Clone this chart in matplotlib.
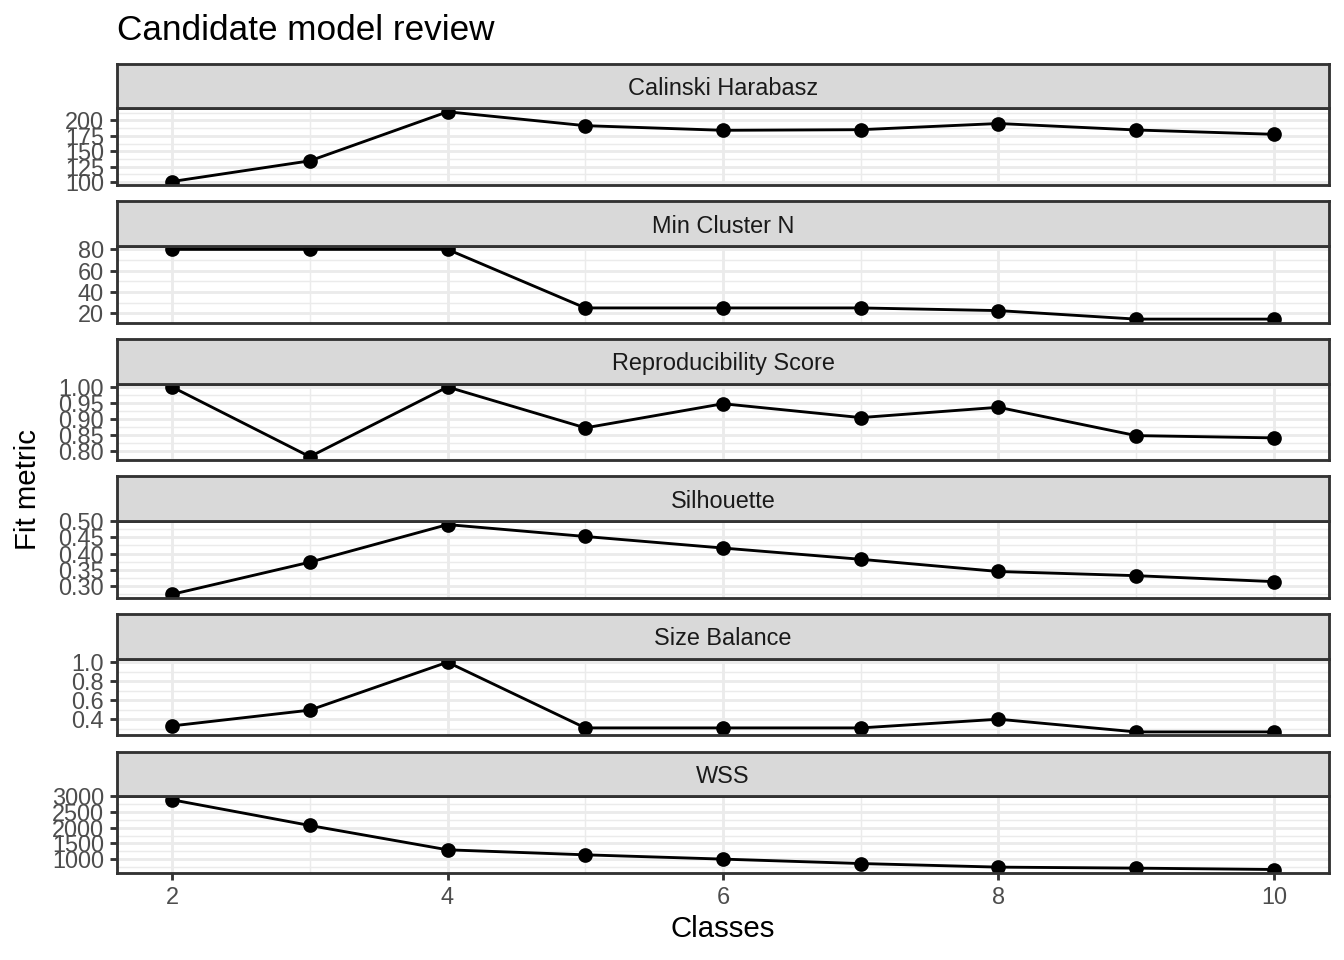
import numpy as np
import matplotlib
matplotlib.use("Agg")
import matplotlib.pyplot as plt
from matplotlib.ticker import MultipleLocator, FormatStrFormatter

plt.rcParams['font.family'] = ['Liberation Sans', 'DejaVu Sans']

# data
classes = [2, 3, 4, 5, 6, 7, 8, 9, 10]
metrics = ["Calinski Harabasz", "Min Cluster N", "Reproducibility Score",
           "Silhouette", "Size Balance", "WSS"]
calinski = [101, 134.5, 214, 191.5, 184, 185, 195, 184.5, 177.5]
min_cluster_n = [80, 80, 80, 25, 25, 25, 22.5, 14.5, 14.5]
reproducibility = [1.00, 0.7835, 1.00, 0.873, 0.948, 0.905, 0.937, 0.849, 0.842]
silhouette = [0.273, 0.373, 0.49, 0.453, 0.417, 0.382, 0.344, 0.331, 0.3125]
size_balance = [0.333, 0.498, 1.00, 0.312, 0.312, 0.312, 0.403, 0.27, 0.27]
wss = [2894, 2074, 1297, 1137, 1000, 859, 744, 712, 668]
series = [calinski, min_cluster_n, reproducibility, silhouette, size_balance, wss]

# axis settings per facet
tick_steps = [25, 20, 0.05, 0.05, 0.2, 500]
tick_fmts = ['%d', '%d', '%.2f', '%.2f', '%.1f', '%d']

W, H = 1344, 960
fig = plt.figure(figsize=(7, 5), dpi=192)

left, right = 117, 1329
row_step = 137.6
strip_top0, panel_top0, panel_bot0 = 63.5, 108.3, 185.0

grey20 = '#333333'
lw = 1.07

for k, (name, vals) in enumerate(zip(metrics, series)):
    st = strip_top0 + k * row_step
    pt = panel_top0 + k * row_step
    pb = panel_bot0 + k * row_step

    ax = fig.add_axes([left / W, 1 - pb / H, (right - left) / W, (pb - pt) / H])
    ax.plot(classes, vals, color='black', lw=lw, marker='o', ms=4.5,
            solid_capstyle='butt')
    ax.margins(x=0.05, y=0.05)
    ax.set_facecolor('white')
    ax.set_axisbelow(True)

    ax.xaxis.set_major_locator(MultipleLocator(2))
    ax.xaxis.set_minor_locator(MultipleLocator(1))
    ax.yaxis.set_major_locator(MultipleLocator(tick_steps[k]))
    ax.yaxis.set_minor_locator(MultipleLocator(tick_steps[k] / 2))
    ax.yaxis.set_major_formatter(FormatStrFormatter(tick_fmts[k]))

    ax.grid(which='major', color='#EBEBEB', lw=1.07)
    ax.grid(which='minor', color='#EBEBEB', lw=0.53)
    for sp in ax.spines.values():
        sp.set_color(grey20)
        sp.set_linewidth(lw)

    ax.tick_params(which='minor', length=0)
    ax.tick_params(which='major', length=2.75, width=lw, color=grey20,
                   labelsize=8.8, labelcolor='#4D4D4D', pad=2.2)
    if k < len(metrics) - 1:
        ax.tick_params(axis='x', which='major', bottom=False, labelbottom=False)

    sax = fig.add_axes([left / W, 1 - pt / H, (right - left) / W, (pt - st) / H])
    sax.set_facecolor('#D9D9D9')
    sax.set_xticks([])
    sax.set_yticks([])
    for sp in sax.spines.values():
        sp.set_color(grey20)
        sp.set_linewidth(lw)
    sax.text(0.5, 0.44, name, ha='center', va='center', fontsize=8.8,
             color='#1A1A1A', transform=sax.transAxes)

fig.text(left / W, 1 - 40 / H, "Candidate model review", ha='left',
         va='baseline', fontsize=13.2, color='black')
fig.text((left + right) / 2 / W, 1 - 929 / H, "Classes", ha='center',
         va='center', fontsize=11, color='black')
fig.text(28 / W, 1 - 490 / H, "Fit metric", ha='center', va='center',
         rotation=90, fontsize=11, color='black')

fig.savefig("out.png", dpi=192, facecolor='white')
